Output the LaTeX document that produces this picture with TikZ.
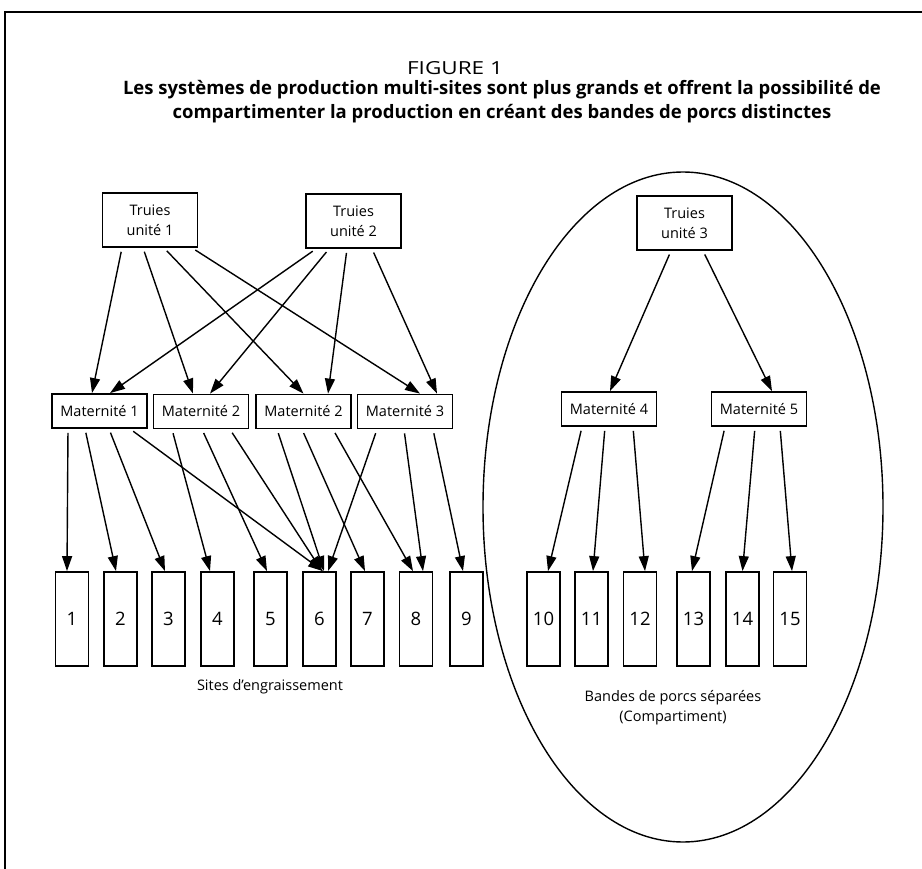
\documentclass[tikz,border=0pt]{standalone}
\usepackage{fontspec}
\setmainfont{Open Sans}
\usetikzlibrary{arrows.meta}
\begin{document}
\begin{tikzpicture}[x=1pt,y=-1pt,
  box/.style={draw,line width=1.8pt,inner sep=0pt,align=center,font=\fontsize{14.5}{20}\selectfont},
  truie/.style={box,minimum width=95pt,minimum height=54pt},
  mat/.style={box,minimum width=95pt,minimum height=34pt},
  site/.style={draw,line width=1.8pt,minimum width=33pt,minimum height=94pt,inner sep=0pt,font=\fontsize{18.5}{20}\selectfont},
  arr/.style={line width=1.4pt,shorten <=4pt,-{Triangle[length=15pt,width=10pt]}},
  lbl/.style={align=center,font=\fontsize{14.5}{20}\selectfont}
]
\useasboundingbox (0,0) rectangle (922,869);
% frame
\draw[line width=2pt] (922,12) -- (5,12) -- (5,869);
% title
\node[font=\fontsize{18}{20}\selectfont] (fig) at (455,68) {\scalebox{1.25}[1]{FIGURE 1}};
\node[align=center,font=\bfseries\fontsize{18.5}{24}\selectfont] (title) at (502,102)
  {Les systèmes de production multi-sites sont plus grands et offrent la possibilité de\\
   compartimenter la production en créant des bandes de porcs distinctes};
% compartment ellipse
\draw[line width=1.4pt] (683,507) ellipse [x radius=200, y radius=335];
% sow units
\node[truie] (t1) at (150,220) {Truies\\unité 1};
\node[truie] (t2) at (353.5,221) {Truies\\unité 2};
\node[truie] (t3) at (684.5,223) {Truies\\unité 3};
% farrowing units
\node[mat] (m1) at (99.5,411) {Maternité 1};
\node[mat] (m2a) at (201,411.5) {Maternité 2};
\node[mat] (m2b) at (303.5,411.5) {Maternité 2};
\node[mat] (m3) at (405,411.5) {Maternité 3};
\node[mat] (m4) at (609,409) {Maternité 4};
\node[mat] (m5) at (759,409) {Maternité 5};
% sites
\foreach \n/\x in {1/72,2/120.5,3/168.5,4/217.5,5/270.5,6/319.5,7/367.5,8/416,9/466.5,
                   10/543.5,11/591.5,12/640,13/693.5,14/742.5,15/790}
  \node[site] (s\n) at (\x,619) {\n};
% labels
\node[lbl] (lsites) at (270,687) {Sites d’engraissement};
\node[lbl] (lbandes) at (673,708) {Bandes de porcs séparées\\(Compartiment)};
% sows -> farrowing
\draw[arr] ([xshift=-28pt]t1.south) -- ([xshift=-7.5pt]m1.north);
\draw[arr] ([xshift=-7pt]t1.south) -- ([xshift=-8pt]m2a.north);
\draw[arr] ([xshift=14pt]t1.south) -- ([xshift=0pt]m2b.north);
\draw[arr] ([xshift=42pt]t1.south) -- ([xshift=15pt]m3.north);
\draw[arr] ([xshift=-37.5pt]t2.south) -- ([xshift=10.5pt]m1.north);
\draw[arr] ([xshift=-24.5pt]t2.south) -- ([xshift=9pt]m2a.north);
\draw[arr] ([xshift=-6.5pt]t2.south) -- ([xshift=24.5pt]m2b.north);
\draw[arr] ([xshift=18.5pt]t2.south) -- ([xshift=32pt]m3.north);
\draw[arr] ([xshift=-13.5pt]t3.south) -- ([xshift=1pt]m4.north);
\draw[arr] ([xshift=18.5pt]t3.south) -- ([xshift=13pt]m5.north);
% farrowing -> sites
\draw[arr] ([xshift=-31.5pt]m1.south) -- ([xshift=-5pt]s1.north);
\draw[arr] ([xshift=-14.5pt]m1.south) -- ([xshift=-4.5pt]s2.north);
\draw[arr] ([xshift=9.5pt]m1.south) -- ([xshift=-3.5pt]s3.north);
\draw[arr] ([xshift=30.5pt]m1.south) -- ([xshift=3.5pt]s6.north);
\draw[arr] ([xshift=-29pt]m2a.south) -- ([xshift=-7.5pt]s4.north);
\draw[arr] ([xshift=1pt]m2a.south) -- ([xshift=-3.5pt]s5.north);
\draw[arr] ([xshift=29pt]m2a.south) -- ([xshift=2.5pt]s6.north);
\draw[arr] ([xshift=-26.5pt]m2b.south) -- ([xshift=4.5pt]s6.north);
\draw[arr] ([xshift=-1.5pt]m2b.south) -- ([xshift=-2.5pt]s7.north);
\draw[arr] ([xshift=29.5pt]m2b.south) -- ([xshift=-3pt]s8.north);
\draw[arr] ([xshift=-28pt]m3.south) -- ([xshift=8.5pt]s6.north);
\draw[arr] ([xshift=-1pt]m3.south) -- ([xshift=7pt]s8.north);
\draw[arr] ([xshift=28pt]m3.south) -- ([xshift=-3.5pt]s9.north);
\draw[arr] ([xshift=-27pt]m4.south) -- ([xshift=4.5pt]s10.north);
\draw[arr] ([xshift=-4pt]m4.south) -- ([xshift=1.5pt]s11.north);
\draw[arr] ([xshift=24pt]m4.south) -- ([xshift=5pt]s12.north);
\draw[arr] ([xshift=-34pt]m5.south) -- ([xshift=-1.5pt]s13.north);
\draw[arr] ([xshift=-4pt]m5.south) -- ([xshift=0pt]s14.north);
\draw[arr] ([xshift=21pt]m5.south) -- ([xshift=2pt]s15.north);
\end{tikzpicture}
\end{document}
